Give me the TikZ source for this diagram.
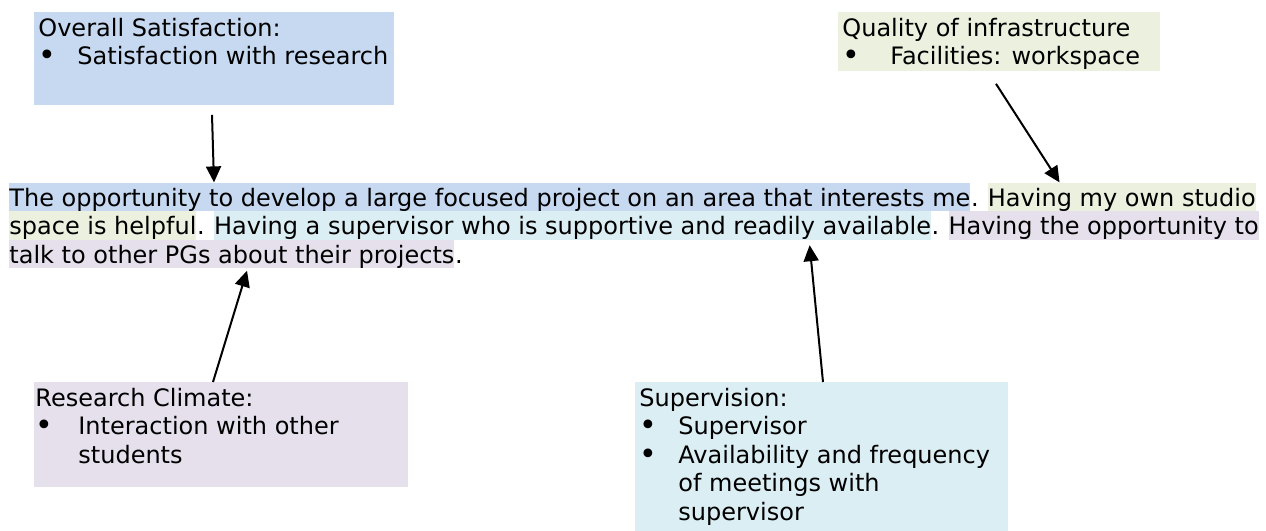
\documentclass[tikz,border=0pt]{standalone}
\usepackage{fontspec}
\setmainfont{DejaVu Sans}
\usepackage{tikz}
\usetikzlibrary{arrows.meta,positioning,calc}
\definecolor{overall}{RGB}{198,217,241}
\definecolor{infra}{RGB}{235,241,222}
\definecolor{climate}{RGB}{229,224,236}
\definecolor{superv}{RGB}{218,238,243}
\newcommand{\fs}{\fontsize{12}{14.25}\selectfont}
\newcommand{\tstrut}{\rule{0pt}{11.9pt}}
\newcommand{\bul}[1][19.5pt]{\makebox[#1][l]{\raisebox{-0.4pt}{\fontsize{15}{14.25}\selectfont\textbullet}}}
\newcommand{\hang}[1][19.5pt]{\hspace*{#1}}
\newcommand{\boxtext}[3]{\parbox[c][#1][t]{#2}{\tstrut#3}}
\newcommand{\fullstop}{\makebox[8pt][l]{.}}

\begin{document}
\begin{tikzpicture}[
    x=0.5pt, y=-0.5pt,
    lbl/.style={anchor=north west, inner xsep=2pt, inner ysep=0pt, font=\fs},
    hl/.style={inner sep=0pt, text height=11.6pt, text depth=2.65pt, font=\fs},
    arr/.style={line width=1pt, -{Triangle[length=8pt,width=7.5pt]}}
]
    \useasboundingbox (0,0) rectangle (1266,531);

    % Category boxes
    \node[lbl, fill=overall] (ovr) at (34,12) {\boxtext{46.5pt}{176pt}{Overall Satisfaction:\\ \bul Satisfaction with research}};
    \node[lbl, fill=infra] (infr) at (838,12) {\boxtext{29.5pt}{157pt}{Quality of infrastructure\\ \bul[24pt]Facilities: workspace}};
    \node[lbl, fill=climate, inner xsep=0.5pt] (clim) at (34,382) {\boxtext{52.5pt}{186pt}{Research Climate:\\ \bul[21.5pt]Interaction with other\\ \hang[21.5pt]students}};
    \node[lbl, fill=superv] (supv) at (635,382) {\boxtext{74.5pt}{182.5pt}{Supervision:\\ \bul Supervisor\\ \bul Availability and frequency\\ \hang of meetings with\\ \hang supervisor}};

    % Highlighted answer, line 1
    \node[hl, fill=overall, anchor=base west] (a1) at (9,206) {The opportunity to develop a large focused project on an area that interests me};
    \node[hl, right=0pt of a1] (a2) {\fullstop};
    \node[hl, fill=infra, right=0pt of a2] (a3) {Having my own studio};

    % line 2
    \node[hl, fill=infra, anchor=base west] (b1) at (9,234.5) {space is helpful};
    \node[hl, right=0pt of b1] (b2) {\fullstop};
    \node[hl, fill=superv, right=0pt of b2] (b3) {Having a supervisor who is supportive and readily available};
    \node[hl, right=0pt of b3] (b4) {\fullstop};
    \node[hl, fill=climate, right=0pt of b4] (b5) {Having the opportunity to};

    % line 3
    \node[hl, fill=climate, anchor=base west] (c1) at (9,263) {talk to other PGs about their projects};
    \node[hl, right=0pt of c1] (c2) {.};

    % Arrows
    \draw[arr] ($(ovr.south west)+(178,9)$) -- ($(a1.north west)+(205,0)$);
    \draw[arr] ($(infr.south west)+(158,12)$) -- ($(a3.north west)+(72,0)$);
    \draw[arr] ($(clim.north west)+(179,0)$) -- ($(c1.south west)+(238,2)$);
    \draw[arr] ($(supv.north west)+(188,0)$) -- ($(b3.south west)+(596,5)$);
\end{tikzpicture}
\end{document}
